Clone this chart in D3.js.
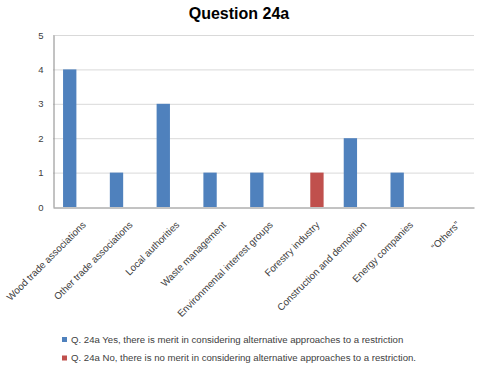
<!DOCTYPE html>
<html><head><meta charset="utf-8">
<script src="https://cdn.jsdelivr.net/npm/d3@7"></script>
<style>body{margin:0;background:#fff}svg{display:block}</style>
</head><body>
<svg id="c" width="482" height="368"></svg>
<script>
const categories = ["Wood trade associations","Other trade associations","Local authorities","Waste management","Environmental interest groups","Forestry industry","Construction and demolition","Energy companies","\u201cOthers\u201d"];
const seriesNames = ["Q. 24a Yes, there is merit in considering alternative approaches to a restriction","Q. 24a No, there is no merit in considering alternative approaches to a restriction."];
const yesValues = [4,1,3,1,1,0,2,1,0];
const noValues  = [0,0,0,0,0,1,0,0,0];
const yTicks = [0,1,2,3,4,5];
const colors = ["#4F81BD","#C0504D"];
const title = "Question 24a";

const svg = d3.select("#c");
const font = "'Liberation Sans', Arial, sans-serif";
const m = {l:53, r:474, t:35, b:207};

const x = d3.scaleBand().domain(categories).range([m.l, m.r]);
const y = d3.scaleLinear().domain([0,5]).range([m.b, m.t]);
const gw = x.bandwidth()*0.57;
const x1 = d3.scaleBand().domain([0,1]).range([-gw/2, gw/2]);

svg.append("text").attr("x",239).attr("y",19).attr("text-anchor","middle")
  .attr("font-family",font).attr("font-weight","bold").attr("font-size",16).attr("fill","#000").text(title);

// gridlines
svg.append("g").selectAll("line").data(yTicks.filter(d=>d>0)).join("line")
  .attr("x1",m.l).attr("x2",m.r).attr("y1",d=>y(d)+0.5).attr("y2",d=>y(d)+0.5)
  .attr("stroke","#D9D9D9").attr("stroke-width",1);

// y axis
const ya = svg.append("g").attr("transform",`translate(${m.l+0.5},0)`)
  .call(d3.axisLeft(y).tickValues(yTicks).tickSize(0).tickPadding(10).tickFormat(d3.format("d")));
ya.select(".domain").attr("stroke","#868686");
ya.selectAll("text").attr("font-family",font).attr("font-size",9.5).attr("fill","#404040");

// bars
const data = categories.map((c,i)=>({c, v:[yesValues[i], noValues[i]]}));
const g = svg.append("g").selectAll("g").data(data).join("g")
  .attr("transform",d=>`translate(${x(d.c)+x.bandwidth()/2},0)`);
g.selectAll("rect").data(d=>d.v.map((v,k)=>({v,k}))).join("rect")
  .attr("x",d=>x1(d.k)).attr("width",x1.bandwidth())
  .attr("y",d=>y(d.v)).attr("height",d=>y(0)-y(d.v))
  .attr("fill",d=>colors[d.k]);

// x axis
const xa = svg.append("g").attr("transform",`translate(0,${m.b+0.5})`)
  .call(d3.axisBottom(x).tickSize(0).tickPadding(0));
xa.select(".domain").attr("stroke","#868686");
xa.selectAll("text").attr("font-family",font).attr("font-size",9.8).attr("fill","#404040")
  .attr("text-anchor","end").attr("dy",0)
  .attr("transform","translate(10,18) rotate(-45)").attr("y",0).attr("x",0);

// legend
const lg = svg.append("g").selectAll("g").data(seriesNames).join("g")
  .attr("transform",(d,i)=>`translate(62,${337+i*18.5})`);
lg.append("rect").attr("width",5).attr("height",5).attr("fill",(d,i)=>colors[i]);
lg.append("text").attr("x",9).attr("y",5.5).attr("font-family",font).attr("font-size",9.6).attr("fill","#404040").text(d=>d);
</script>
</body></html>
